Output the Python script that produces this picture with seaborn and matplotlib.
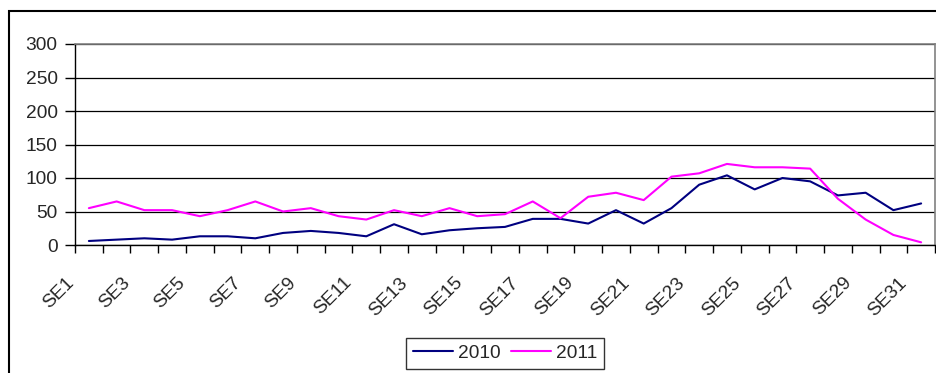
import numpy as np
import pandas as pd
import seaborn as sns
from matplotlib import pyplot as plt
from matplotlib.patches import Rectangle
from matplotlib.lines import Line2D
import matplotlib.transforms as mtrans

weeks = ["SE%d" % i for i in range(1, 32)]
v2010 = [6, 8, 10, 8, 13, 13, 10, 18, 21, 18, 13, 31, 16, 22, 25, 27, 39, 39, 32, 52,
         32, 55, 90, 104, 83, 100, 95, 74, 78, 52, 62]
v2011 = [55, 65, 52, 52, 43, 52, 65, 50, 55, 43, 38, 52, 43, 55, 43, 46, 65, 40, 72, 78,
         67, 102, 107, 121, 116, 116, 114, 69, 38, 15, 4]
years = ["2010", "2011"]
colors = {"2010": "#000080", "2011": "#FF00FF"}

sns.set_style("white")
plt.rcParams['font.family'] = ['Liberation Sans', 'DejaVu Sans']
fs = 13.8

W, H = 936, 373
fig = plt.figure(figsize=(W / 100, H / 100), dpi=100)
ax = fig.add_axes([75 / W, 1 - 245 / H, 860 / W, 201 / H])

df = pd.DataFrame({
    "x": list(range(len(weeks))) * 2,
    "value": v2010 + v2011,
    "year": [years[0]] * len(v2010) + [years[1]] * len(v2011),
})
sns.lineplot(data=df, x="x", y="value", hue="year", palette=colors,
             lw=1.5, ax=ax, legend=False)

ax.set_xlim(-0.5, len(weeks) - 0.5)
ax.set_ylim(0, 300)
ax.set_xlabel("")
ax.set_ylabel("")
ax.set_yticks(range(0, 301, 50))
ax.yaxis.grid(True, color="black", lw=0.9)
ax.set_axisbelow(True)

ax.set_xticks(range(0, len(weeks), 2))
ax.set_xticklabels(weeks[::2], rotation=45, ha="right")
ax.set_xticks(np.arange(-0.5, len(weeks), 1), minor=True)
ax.tick_params(axis="x", which="major", length=0, pad=21, labelsize=fs)
ax.tick_params(axis="x", which="minor", length=6, width=1, color="black", direction="out")
ax.tick_params(axis="y", length=7, width=1, color="black", direction="out", pad=5.5, labelsize=fs)
ax.tick_params(bottom=True, left=True, which="both")

off = mtrans.ScaledTranslation(-11 / 100, 0, fig.dpi_scale_trans)
for lbl in ax.get_xticklabels():
    lbl.set_transform(lbl.get_transform() + off)

for s in ["left", "bottom"]:
    ax.spines[s].set_color("black")
    ax.spines[s].set_linewidth(1)
for s in ["top", "right"]:
    ax.spines[s].set_color("#808080")
    ax.spines[s].set_linewidth(1.2)

handles = [Line2D([], [], color=colors[y], lw=1.5) for y in years]
leg = fig.legend(handles, years, loc="upper center", bbox_to_anchor=(505 / W, 1 - 338 / H),
                 ncol=2, frameon=True, fancybox=False, edgecolor="black", fontsize=fs,
                 handlelength=2.1, handletextpad=0.25, columnspacing=0.55, borderpad=0.35,
                 borderaxespad=0)
leg.get_frame().set_linewidth(1)

fig.patches.append(Rectangle((9 / W, -0.1), 1.2, 1 - 11 / H + 0.1, transform=fig.transFigure,
                             fill=False, ec="black", lw=1.5))

fig.savefig("out.png", dpi=100)
